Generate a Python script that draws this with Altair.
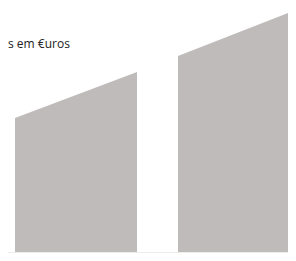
import altair as alt
import pandas as pd

# Two stylised bars with sloped tops (no axes shown)
bars = ["A", "A", "B", "B"]
pos = [7, 129, 170, 280]          # position along the horizontal axis
vals = [135, 181, 197, 240]       # value at each end of the bar top
label = "s em €uros"

df = pd.DataFrame({"bar": bars, "pos": pos, "val": vals})

W, H = 280, 245

x = alt.X("pos:Q", scale=alt.Scale(domain=[0, W], nice=False, zero=False), axis=None)
yscale = alt.Scale(domain=[0, H], nice=False, zero=False)
y = alt.Y("val:Q", scale=yscale, axis=None)

area = alt.Chart(df).mark_area(color="#c0bbbb", clip=True, opacity=1).encode(
    x=x, y=y, y2=alt.datum(1), detail="bar:N"
)

base = alt.Chart(pd.DataFrame({"v": [0.5]})).mark_rule(color="#ececec", strokeWidth=1).encode(
    y=alt.Y("v:Q", scale=yscale, axis=None),
    x=alt.value(0), x2=alt.value(W),
)

txt = alt.Chart(pd.DataFrame({"t": [label]})).mark_text(
    align="left", baseline="alphabetic", font="Open Sans", fontSize=12, color="#222222"
).encode(text="t:N", x=alt.value(0), y=alt.value(40))

chart = alt.layer(base, area, txt).properties(
    width=W, height=H, padding=0, autosize=alt.AutoSizeParams(type="none")
).configure_view(stroke=None)

chart.save("out.html", embed_options={"renderer": "svg", "actions": False})
